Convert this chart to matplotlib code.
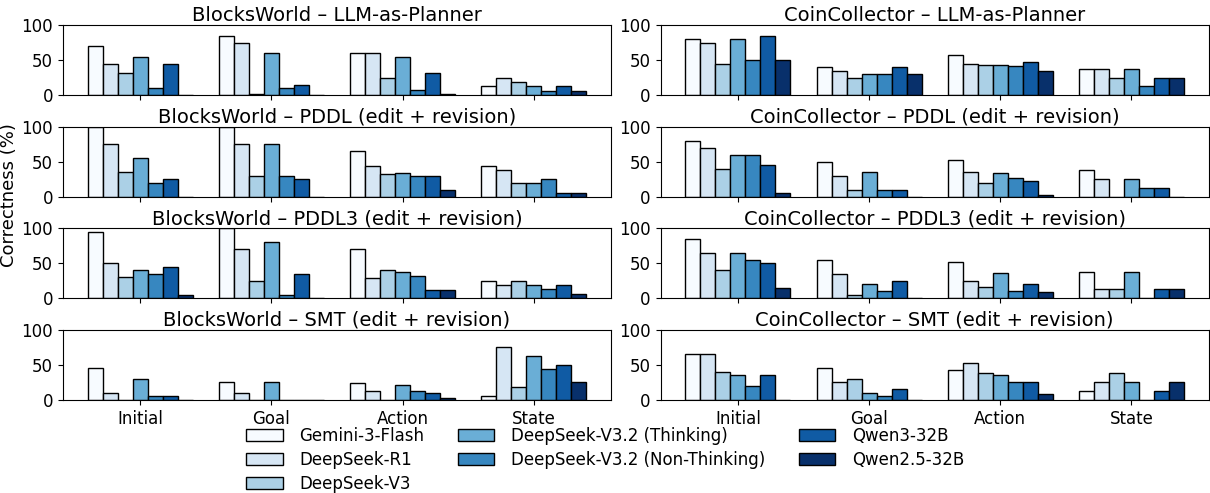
import numpy as np
import matplotlib
matplotlib.use("Agg")
import matplotlib.pyplot as plt

stages = ["Initial", "Goal", "Action", "State"]
models = ["Gemini-3-Flash", "DeepSeek-R1", "DeepSeek-V3",
          "DeepSeek-V3.2 (Thinking)", "DeepSeek-V3.2 (Non-Thinking)",
          "Qwen3-32B", "Qwen2.5-32B"]

# rows = stages, columns = models
bw_llm = [[70, 45, 32, 55, 10, 45, 0],
          [85, 75, 2, 60, 10, 15, 0],
          [60, 60, 24, 54, 7, 32, 2],
          [13, 25, 19, 13, 6, 13, 6]]
cc_llm = [[80, 75, 45, 80, 50, 85, 50],
          [40, 35, 25, 30, 30, 40, 30],
          [57, 45, 43, 43, 41, 48, 34],
          [38, 38, 25, 38, 13, 25, 25]]
bw_pddl = [[100, 75, 35, 55, 20, 25, 0],
           [100, 75, 30, 75, 30, 25, 0],
           [66, 44, 32, 34, 29, 29, 10],
           [44, 38, 19, 19, 25, 6, 6]]
cc_pddl = [[80, 70, 40, 60, 60, 45, 5],
           [50, 30, 10, 35, 10, 10, 0],
           [52, 36, 20, 34, 27, 23, 2],
           [38, 25, 0, 25, 13, 13, 0]]
bw_pddl3 = [[95, 50, 30, 40, 35, 45, 5],
            [100, 70, 25, 80, 5, 35, 0],
            [71, 29, 41, 37, 32, 12, 12],
            [25, 19, 25, 19, 13, 19, 6]]
cc_pddl3 = [[85, 65, 40, 65, 55, 50, 15],
            [55, 35, 5, 20, 10, 25, 0],
            [52, 25, 16, 36, 11, 20, 9],
            [38, 13, 13, 38, 0, 13, 13]]
bw_smt = [[45, 10, 0, 30, 5, 5, 0],
          [25, 10, 0, 25, 0, 0, 0],
          [24, 12, 0, 21, 12, 10, 2],
          [6, 75, 19, 62, 44, 50, 25]]
cc_smt = [[65, 65, 40, 35, 20, 35, 0],
          [45, 25, 30, 10, 5, 15, 0],
          [43, 52, 39, 36, 25, 25, 9],
          [13, 25, 38, 25, 0, 13, 25]]

panels = [
    ("BlocksWorld – LLM-as-Planner", bw_llm), ("CoinCollector – LLM-as-Planner", cc_llm),
    ("BlocksWorld – PDDL (edit + revision)", bw_pddl), ("CoinCollector – PDDL (edit + revision)", cc_pddl),
    ("BlocksWorld – PDDL3 (edit + revision)", bw_pddl3), ("CoinCollector – PDDL3 (edit + revision)", cc_pddl3),
    ("BlocksWorld – SMT (edit + revision)", bw_smt), ("CoinCollector – SMT (edit + revision)", cc_smt),
]

colors = plt.cm.Blues(np.linspace(0, 1, len(models)))

fig, axes = plt.subplots(4, 2, figsize=(12.1, 4.93), dpi=100, sharex=True)
plt.subplots_adjust(left=0.052, right=0.999, top=0.949, bottom=0.189,
                    wspace=0.09, hspace=0.45)

x = np.arange(len(stages))
w = 0.8 / len(models)
for ax, (title, data) in zip(axes.flat, panels):
    data = np.array(data)
    for j, m in enumerate(models):
        ax.bar(x + (j - 3) * w, data[:, j], w, color=colors[j],
               edgecolor="black", linewidth=1.0, label=m)
    ax.set_title(title, fontsize=14, pad=3)
    ax.set_ylim(0, 100)
    ax.set_yticks([0, 50, 100])
    ax.tick_params(labelsize=12)
    ax.set_xticks(x)
    ax.set_xticklabels(stages)

fig.text(0.0, 0.605, "Correctness (%)", rotation=90, va="center", ha="left",
         fontsize=13)

handles, labels = axes[0, 0].get_legend_handles_labels()
fig.legend(handles, labels, loc="lower center", ncol=3, frameon=False,
           fontsize=12, bbox_to_anchor=(0.5, -0.03), handlelength=2.2,
           handletextpad=1.0, labelspacing=0.35, columnspacing=2.0)

fig.savefig("out.png", dpi=100)
